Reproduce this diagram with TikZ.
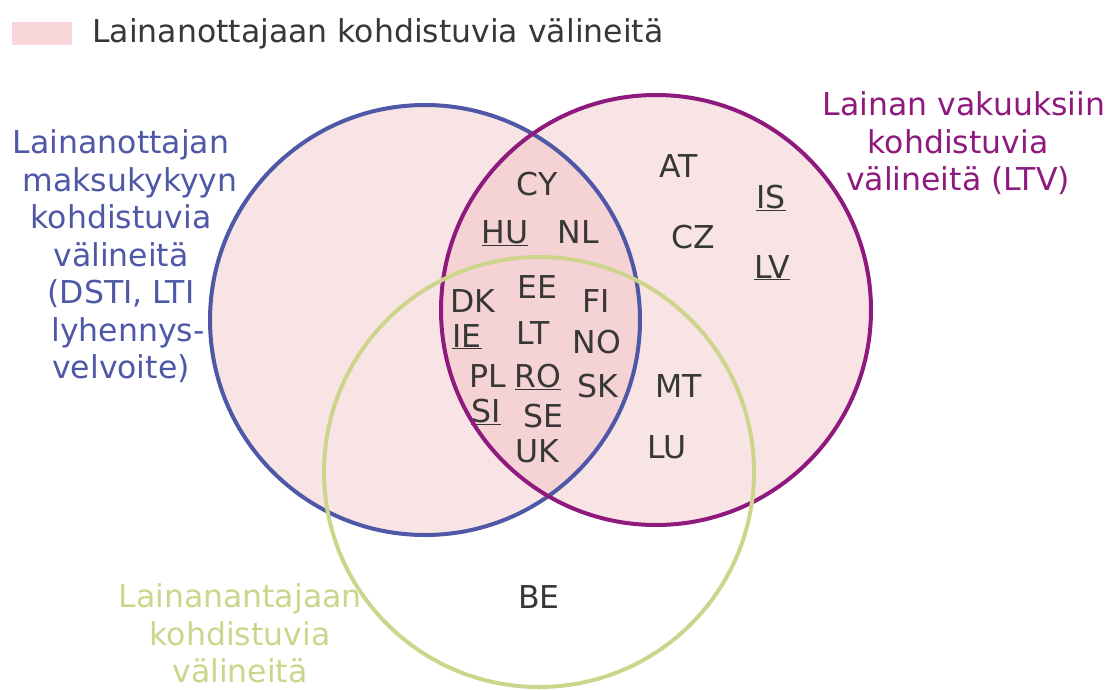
\documentclass[tikz,border=0pt]{standalone}
\usepackage{fontspec}
\setmainfont{DejaVu Sans}
\definecolor{borrowerblue}{RGB}{78,88,166}
\definecolor{collateralpurple}{RGB}{142,26,126}
\definecolor{lenderyellow}{RGB}{205,213,140}
\definecolor{vennpink}{RGB}{238,178,181}
\definecolor{keypink}{RGB}{248,214,217}
\definecolor{darktext}{RGB}{55,55,55}
\begin{document}
\begin{tikzpicture}[x=1pt,y=-1pt,
  every node/.style={font=\fontsize{31.5}{37.5}\selectfont, inner sep=0pt},
  maa/.style={text=darktext, anchor=base},
  otsikko/.style={align=center, anchor=north},
  rengas/.style={line width=4pt},
  varjo/.style={fill=vennpink, fill opacity=0.35}]
\useasboundingbox (0,0) rectangle (1109,689);
\coordinate (cb) at (425,320);
\coordinate (cc) at (656,310);
\coordinate (cl) at (539,472);
\fill[varjo] (cb) circle[radius=215];
\fill[varjo] (cc) circle[radius=215];
\node[fill=keypink, minimum width=60pt, minimum height=23pt] (key) at (42,33) {};
\node[text=darktext, anchor=base west] (keytext) at (92,42) {Lainanottajaan kohdistuvia välineitä};
\node[otsikko, text=borrowerblue] (borrower) at (121,129.4) {Lainanottajan\\\hspace*{18pt}maksukykyyn\\kohdistuvia\\välineitä\\(DSTI, LTI\hspace*{16pt}\\\hspace*{14pt}lyhennys-\\velvoite)};
\node[otsikko, text=collateralpurple] (collateral) at (958,91.4) {\hspace*{12pt}Lainan vakuuksiin\\kohdistuvia\\välineitä (LTV)};
\node[otsikko, text=lenderyellow] (lender) at (240,583.4) {Lainanantajaan\\kohdistuvia\\välineitä};
\node[maa] (CY) at (537,195) {CY};
\node[maa] (HU) at (505,243) {\underline{HU}};
\node[maa] (NL) at (578,243) {NL};
\node[maa] (EE) at (537,298) {EE};
\node[maa] (DK) at (473,312) {DK};
\node[maa] (FI) at (596,312) {FI};
\node[maa] (IE) at (467,347) {\underline{IE}};
\node[maa] (LT) at (533,344) {LT};
\node[maa] (NO) at (597,353) {NO};
\node[maa] (PL) at (488,387) {PL};
\node[maa] (RO) at (538,387) {\underline{RO}};
\node[maa] (SK) at (598,397) {SK};
\node[maa] (SI) at (486,422) {\underline{SI}};
\node[maa] (SE) at (543,427) {SE};
\node[maa] (UK) at (537,462) {UK};
\node[maa] (AT) at (679,177) {AT};
\node[maa] (IS) at (771,208) {\underline{IS}};
\node[maa] (CZ) at (693,248) {CZ};
\node[maa] (LV) at (772,278) {\underline{LV}};
\node[maa] (MT) at (679,397) {MT};
\node[maa] (LU) at (667,458) {LU};
\node[maa] (BE) at (539,608) {BE};
\draw[rengas, borrowerblue] (cb) circle[radius=215];
\draw[rengas, collateralpurple] (cc) circle[radius=215];
\draw[rengas, lenderyellow] (cl) circle[radius=215];
\end{tikzpicture}
\end{document}
